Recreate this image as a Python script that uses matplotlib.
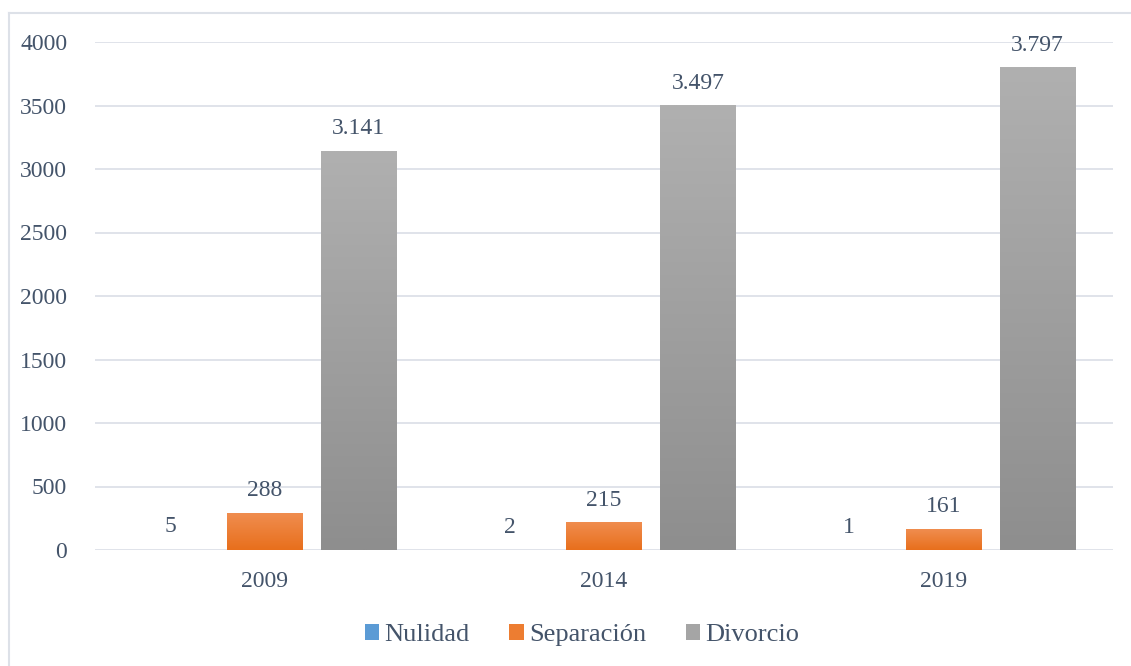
import matplotlib
matplotlib.use("Agg")
import matplotlib.pyplot as plt
import numpy as np
from matplotlib.colors import LinearSegmentedColormap
from matplotlib.patches import Rectangle
from matplotlib.lines import Line2D

years = ["2009", "2014", "2019"]
series = ["Nulidad", "Separación", "Divorcio"]
nulidad = [5, 2, 1]
separacion = [288, 215, 161]
divorcio = [3141, 3497, 3797]
yticks = [0, 500, 1000, 1500, 2000, 2500, 3000, 3500, 4000]

plt.rcParams['font.family'] = ['Liberation Serif', 'DejaVu Serif']
text_color = '#44546A'
fs = 17

fig = plt.figure(figsize=(11.31, 6.66), dpi=100)
ax = fig.add_axes([95/1131, 116/666, 1018/1131, 508/666])

# outer border (only left and top visible in the reference)
bc = '#DDE1E8'
fig.lines.append(Line2D([8.5/1131, 8.5/1131], [0, 1 - 13/666], transform=fig.transFigure,
                        color=bc, linewidth=1.5))
fig.lines.append(Line2D([8.5/1131, 1], [1 - 13/666, 1 - 13/666], transform=fig.transFigure,
                        color=bc, linewidth=1.5))

x = np.arange(len(years))
w = 0.222
step = 0.277
grads = [('#5B9BD5', '#4A8BCB', '#5B9BD5'),
         ('#F08D4F', '#E86F1C', '#ED7D31'),
         ('#B0B0B0', '#8E8E8E', '#A5A5A5')]
data = [nulidad, separacion, divorcio]

handles = []
for i, (vals, name, (ctop, cbot, cleg)) in enumerate(zip(data, series, grads)):
    bars = ax.bar(x + (i - 1) * step, vals, width=w, color='none', edgecolor='none', zorder=3)
    cmap = LinearSegmentedColormap.from_list(name, [cbot, ctop])
    grad = np.linspace(0, 1, 256).reshape(-1, 1)
    for b, v in zip(bars, vals):
        x0, y0 = b.get_x(), b.get_y()
        if b.get_height() > 20:
            ax.imshow(grad, extent=[x0, x0 + b.get_width(), y0, y0 + b.get_height()],
                      origin='lower', cmap=cmap, aspect='auto', zorder=3)
        lab = f"{v:,}".replace(",", ".")
        ax.text(x0 + b.get_width() / 2, v + 95, lab, ha='center', va='bottom',
                fontsize=fs, color=text_color, zorder=4)
    handles.append(Rectangle((0, 0), 1, 1, facecolor=cleg, edgecolor='none'))

ax.set_xlim(-0.5, 2.5)
ax.set_ylim(0, 4000)
ax.set_yticks(yticks)
ax.set_yticklabels([str(t) for t in yticks])
ax.set_xticks(x)
ax.set_xticklabels(years)
ax.tick_params(axis='both', length=0, labelsize=fs, labelcolor=text_color)
ax.tick_params(axis='y', pad=20)
ax.tick_params(axis='x', pad=15)
ax.grid(axis='y', color='#DDE1E8', linewidth=1.3, zorder=0)
ax.set_axisbelow(True)
for s in ax.spines.values():
    s.set_visible(False)

fig.legend(handles, series, loc='center', bbox_to_anchor=(582/1131, 1 - 635/666),
           ncol=3, frameon=False, fontsize=19, labelcolor=text_color,
           handlelength=0.55, handleheight=0.55, handletextpad=0.2, columnspacing=1.5)

fig.savefig("out.png", dpi=100)
